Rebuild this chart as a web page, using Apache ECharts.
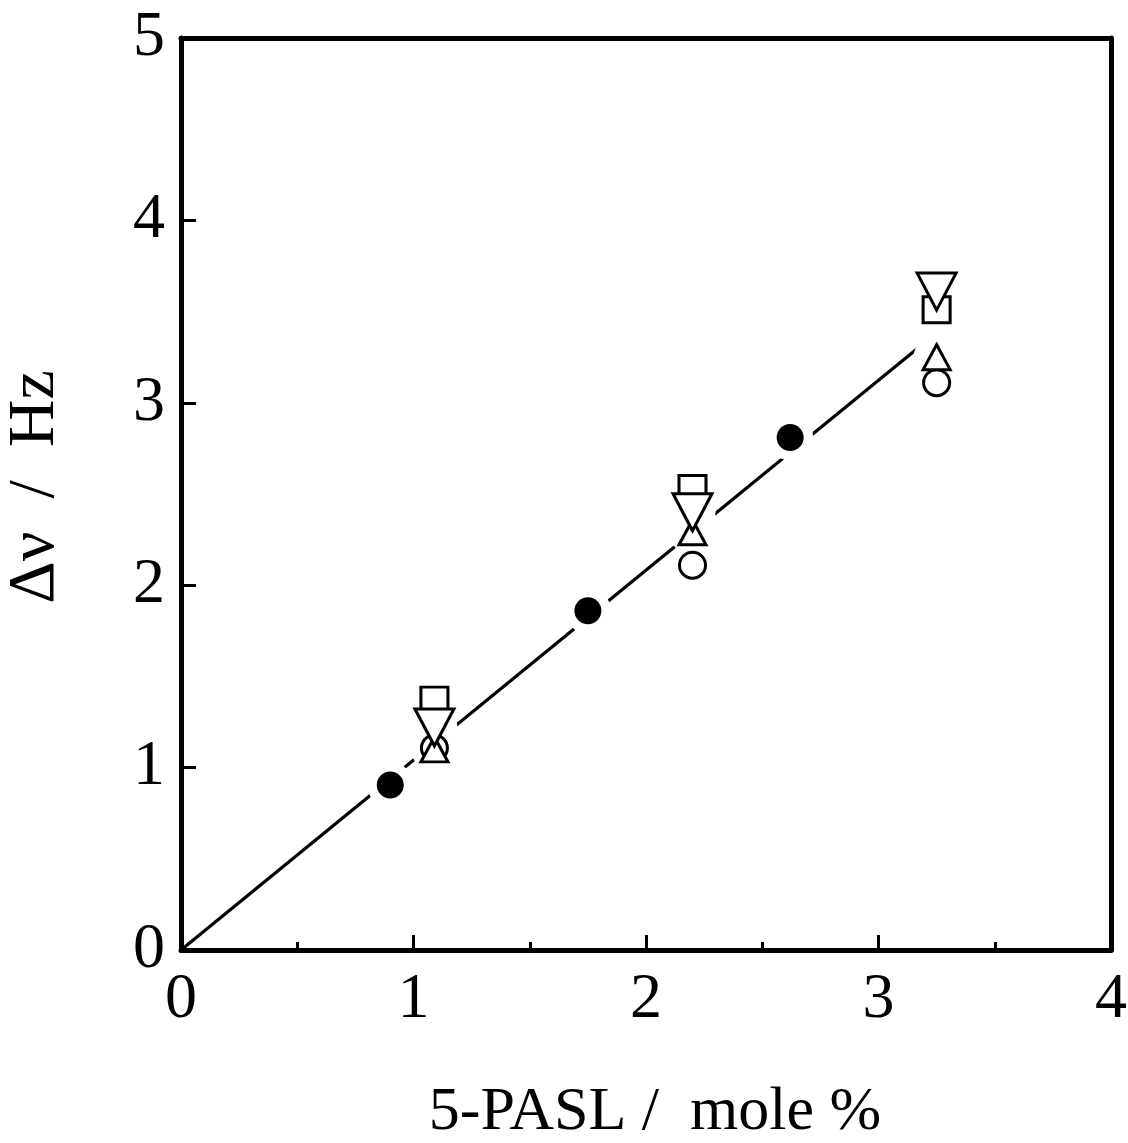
<!DOCTYPE html>
<html>
<head>
<meta charset="utf-8">
<script src="https://cdn.jsdelivr.net/npm/echarts@6/dist/echarts.min.js"></script>
<style>
  html, body { margin: 0; padding: 0; background: #fff; }
  #chart { width: 1128px; height: 1143px; }
</style>
</head>
<body>
<div id="chart"></div>
<script>
// Line width of 5-PASL spectra vs. spin-label concentration
const xTicks = [0, 1, 2, 3, 4];
const yTicks = [0, 1, 2, 3, 4, 5];

// filled circles
const filledX = [0.90, 1.75, 2.62];
const filledY = [0.905, 1.86, 2.81];

// open symbols, shared x positions
const openX = [1.09, 2.20, 3.25];
const circleY = [1.107, 2.11, 3.11];
const upTriY = [1.10, 2.29, 3.25];
const squareY = [1.37, 2.53, 3.51];
const downTriY = [1.22, 2.40, 3.61];

// fitted straight line end points
const fitX = [0, 3.17];
const fitY = [0, 3.30];

const pairs = (xs, ys) => xs.map((x, i) => [x, ys[i]]);

const FONT = '"Liberation Serif", "Times New Roman", serif';
const BLACK = '#000';

const openStyle = { color: '#fff', borderColor: BLACK, borderWidth: 3, opacity: 1 };

// white discs behind the symbols so the fit line breaks around them
const haloData = [].concat(
  pairs(filledX, filledY),
  pairs(openX, circleY),
  pairs(openX, upTriY),
  pairs(openX, downTriY)
);

const chart = echarts.init(document.getElementById('chart'), null, { renderer: 'canvas' });

chart.setOption({
  animation: false,
  backgroundColor: '#fff',
  grid: { left: 181, right: 17, top: 38, bottom: 193, containLabel: false, outerBoundsMode: 'none' },
  xAxis: [
    {
      type: 'value', min: 0, max: 4, interval: 1,
      axisLine: { show: true, onZero: false, lineStyle: { color: BLACK, width: 5 } },
      axisTick: { show: true, inside: true, length: 15, lineStyle: { color: BLACK, width: 3 } },
      minorTick: { show: true, splitNumber: 2, length: 8, lineStyle: { color: BLACK, width: 3 } },
      splitLine: { show: false },
      axisLabel: {
        color: BLACK, fontFamily: FONT, fontSize: 64, margin: 18,
        formatter: v => xTicks.includes(v) ? String(v) : ''
      },
      name: '5-PASL /  mole %',
      nameLocation: 'middle',
      nameGap: 132,
      nameTextStyle: { color: BLACK, fontFamily: FONT, fontSize: 62, padding: [0, 0, 0, 18] }
    },
    {
      type: 'value', position: 'top', min: 0, max: 4, interval: 1,
      axisLine: { show: true, onZero: false, lineStyle: { color: BLACK, width: 5 } },
      axisTick: { show: false }, axisLabel: { show: false }, splitLine: { show: false }
    }
  ],
  yAxis: [
    {
      type: 'value', min: 0, max: 5, interval: 1,
      axisLine: { show: true, onZero: false, lineStyle: { color: BLACK, width: 5 } },
      axisTick: { show: true, inside: true, length: 15, lineStyle: { color: BLACK, width: 3 } },
      splitLine: { show: false },
      axisLabel: {
        color: BLACK, fontFamily: FONT, fontSize: 64, margin: 16,
        formatter: v => yTicks.includes(v) ? String(v) : ''
      },
      name: 'Δν  /  Hz',
      nameLocation: 'middle',
      nameGap: 112,
      nameTextStyle: { color: BLACK, fontFamily: FONT, fontSize: 66, padding: [0, 0, 0, 14] }
    },
    {
      type: 'value', position: 'right', min: 0, max: 5, interval: 1,
      axisLine: { show: true, onZero: false, lineStyle: { color: BLACK, width: 5 } },
      axisTick: { show: false }, axisLabel: { show: false }, splitLine: { show: false }
    }
  ],
  series: [
    {
      name: 'fit', type: 'line', z: 2,
      data: pairs(fitX, fitY),
      symbol: 'none',
      lineStyle: { color: BLACK, width: 3.2 }
    },
    {
      name: 'halo', type: 'scatter', z: 3,
      data: haloData,
      symbol: 'circle', symbolSize: 46,
      itemStyle: { color: '#fff', opacity: 1 },
      silent: true
    },
    {
      name: 'circle', type: 'scatter', z: 4,
      data: pairs(openX, circleY),
      symbol: 'circle', symbolSize: 26,
      itemStyle: openStyle
    },
    {
      name: 'triangle up', type: 'scatter', z: 5,
      data: pairs(openX, upTriY),
      symbol: 'triangle', symbolSize: [27, 25],
      itemStyle: openStyle
    },
    {
      name: 'square', type: 'scatter', z: 6,
      data: pairs(openX, squareY),
      symbol: 'rect', symbolSize: [27, 26],
      itemStyle: openStyle
    },
    {
      name: 'triangle down', type: 'scatter', z: 7,
      data: pairs(openX, downTriY),
      symbol: 'triangle', symbolRotate: 180, symbolSize: [39, 37],
      itemStyle: openStyle
    },
    {
      name: 'filled', type: 'scatter', z: 8,
      data: pairs(filledX, filledY),
      symbol: 'circle', symbolSize: 27,
      itemStyle: { color: BLACK, opacity: 1 }
    }
  ]
});
</script>
</body>
</html>
